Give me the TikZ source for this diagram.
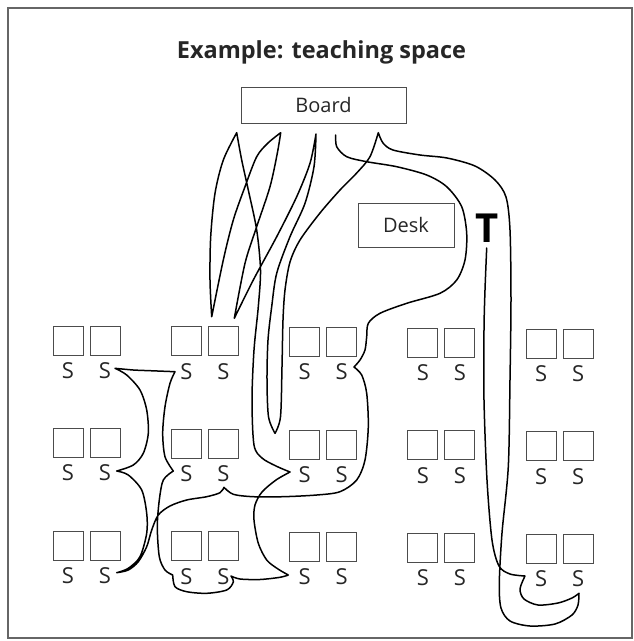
\documentclass[tikz,border=0pt]{standalone}
\usepackage{fontspec}
\setmainfont{Open Sans}
\tikzset{
  seat/.style={draw=black!70, line width=0.9pt, minimum width=30pt, minimum height=29pt, inner sep=0pt},
  lbl/.style={font=\fontsize{20}{23}\selectfont, inner sep=0pt, text=black!85},
  walk/.style={line width=1.5pt, line join=round, line cap=round},
}
\begin{document}
\begin{tikzpicture}[x=1pt,y=-1pt]
    \useasboundingbox (0,0) rectangle (634,641);
    \draw[black!60, line width=1.3pt](8,8) rectangle (632,638);
    \node[anchor=base, inner sep=0pt, text=black!85, font=\fontsize{23.5}{26}\selectfont\bfseries](title) at (321.5,58){Example: teaching space};
    \node[draw=black!70, line width=0.9pt, minimum width=165pt, minimum height=36pt, lbl](board) at (323.5,105){Board};
    \node[draw=black!70, line width=0.9pt, minimum width=96pt, minimum height=44pt, lbl](desk) at (406,225){Desk};
    \node[anchor=base, inner sep=0pt, font=\fontsize{40}{44}\selectfont\bfseries](teacher) at (487,242){T};
    \foreach \c in {1,...,5}
      \foreach \r in {1,2,3}{
        \pgfmathsetmacro\xa{68+118.3*(\c-1)}
        \pgfmathsetmacro\ya{340.5+102.5*(\r-1)+0.8*(\c-1)}
        \node[seat](sa-\c-\r) at (\xa,\ya){};
        \node[seat](sb-\c-\r) at (\xa+37,\ya){};
        \node[lbl, font=\fontsize{22}{24}\selectfont](la-\c-\r) at (\xa,\ya+30){S};
        \node[lbl, font=\fontsize{22}{24}\selectfont](lb-\c-\r) at (\xa+37,\ya+30){S};
      }
    % route of the teacher from the board, round the back and to T
    \draw[walk] plot[smooth] coordinates{(290,472) (276,466) (262,458) (254,445) (252,400) (254,350) (258.3,306.7) (260.5,270) (256.7,230) (248.3,190) (241.7,160) (236.7,132.7)}
      -- plot[smooth] coordinates{(236.7,132.7) (223.3,160) (215,193.3) (210.7,236.7) (210,280) (211.7,316.7)}
      -- plot[smooth] coordinates{(211.7,316.7) (223.3,260) (233.3,220) (245,186.7) (256.7,156.7) (268,143) (280.7,132.7)}
      -- plot[smooth] coordinates{(280.7,132.7) (277.3,153.3) (270,186.7) (256.7,226.7) (245,263.3) (234.3,318.3)}
      -- plot[smooth] coordinates{(234.3,318.3) (253.3,280) (276.7,236.7) (296.7,196.7) (310,163.3) (316,134)}
      -- plot[smooth] coordinates{(316,134) (314,166.7) (305,203.3) (290,236.7) (276.7,273.3) (271.7,306.7) (268,340) (267,380) (268.5,416.7) (275,433.3)}
      -- plot[smooth] coordinates{(275,433.3) (280.5,416.7) (282,366.7) (283,320) (285,290) (290,262) (300,240) (320,213) (340,190) (356.7,173) (370,156.7) (378.3,132.7)}
      -- plot[smooth] coordinates{(378.3,132.7) (383,143) (393,150) (420,155) (447,158) (475,166) (495,180) (506,197) (510,230) (511,300) (510,380) (508.3,466.7) (502,533) (499.3,583) (501,608) (510,621) (530,626) (555,624) (572,615) (578,605) (579,593.3)}
      -- plot[smooth] coordinates{(579,593.3) (572,598) (558,603) (538,605) (524,599) (520,589) (525,576)}
      -- plot[smooth] coordinates{(525,576) (510,574) (499,566) (492,540) (487,480) (484,400) (484,330) (485,290) (486.7,248)};
    % route round the desk and between the tables
    \draw[walk] plot[smooth] coordinates{(335.7,135) (336.7,146.7) (346.7,156.7) (366.7,161.7) (396.7,166.7) (426.7,175) (446.7,186.7) (461.7,206.7) (466.7,233.3) (465,260) (456.7,280) (440,293.3) (406.7,303.3) (380,313.3) (368.3,323.3) (366.7,336.7) (365,350) (360,360) (354,367)}
      -- plot[smooth] coordinates{(354,367) (361.7,375) (366.7,393.3) (368.3,426.7) (365,460) (356.7,480) (340,491.7) (316.7,495) (283.3,496.7) (253.3,496.7) (233.3,494.3) (224,487.3)}
      -- plot[smooth] coordinates{(224,487.3) (220,492.7) (206.7,496.7) (186.7,500) (170,506) (158.3,515) (151.7,530) (146.7,546.7) (138.3,561.7) (128.3,570) (116.7,572.7)}
      -- plot[smooth] coordinates{(116.7,572.7) (128.3,568.3) (140,556.7) (146.7,533.3) (146.7,513.3) (141.7,490) (128.3,475) (116.7,471)}
      -- plot[smooth] coordinates{(116.7,471) (133.3,465) (143.3,453.3) (148.3,433.3) (146.7,410) (140,390) (126.7,375) (115,368.3)}
      -- plot[smooth] coordinates{(115,368.3) (133.3,370) (150,370.7) (175,371.7)}
      -- plot[smooth] coordinates{(175,371.7) (170,383.3) (165,406.7) (162.7,433.3) (165,456.7) (173.3,471)}
      -- plot[smooth] coordinates{(173.3,471) (163.3,480) (159.3,500) (157.3,526.7) (159.3,556.7) (165,570) (172.7,575)}
      -- plot[smooth] coordinates{(172.7,575) (175,586.7) (186.7,591.7) (206.7,593.3) (226.7,590) (233.3,582) (231,576)}
      -- plot[smooth] coordinates{(231,576) (240,579) (260,579.5) (280,577.3) (288.3,575)}
      -- plot[smooth] coordinates{(288.3,575) (278,569) (266.7,560) (258.3,543.3) (254,520) (255,505) (262,492) (276,480) (290,472)};
\end{tikzpicture}
\end{document}
